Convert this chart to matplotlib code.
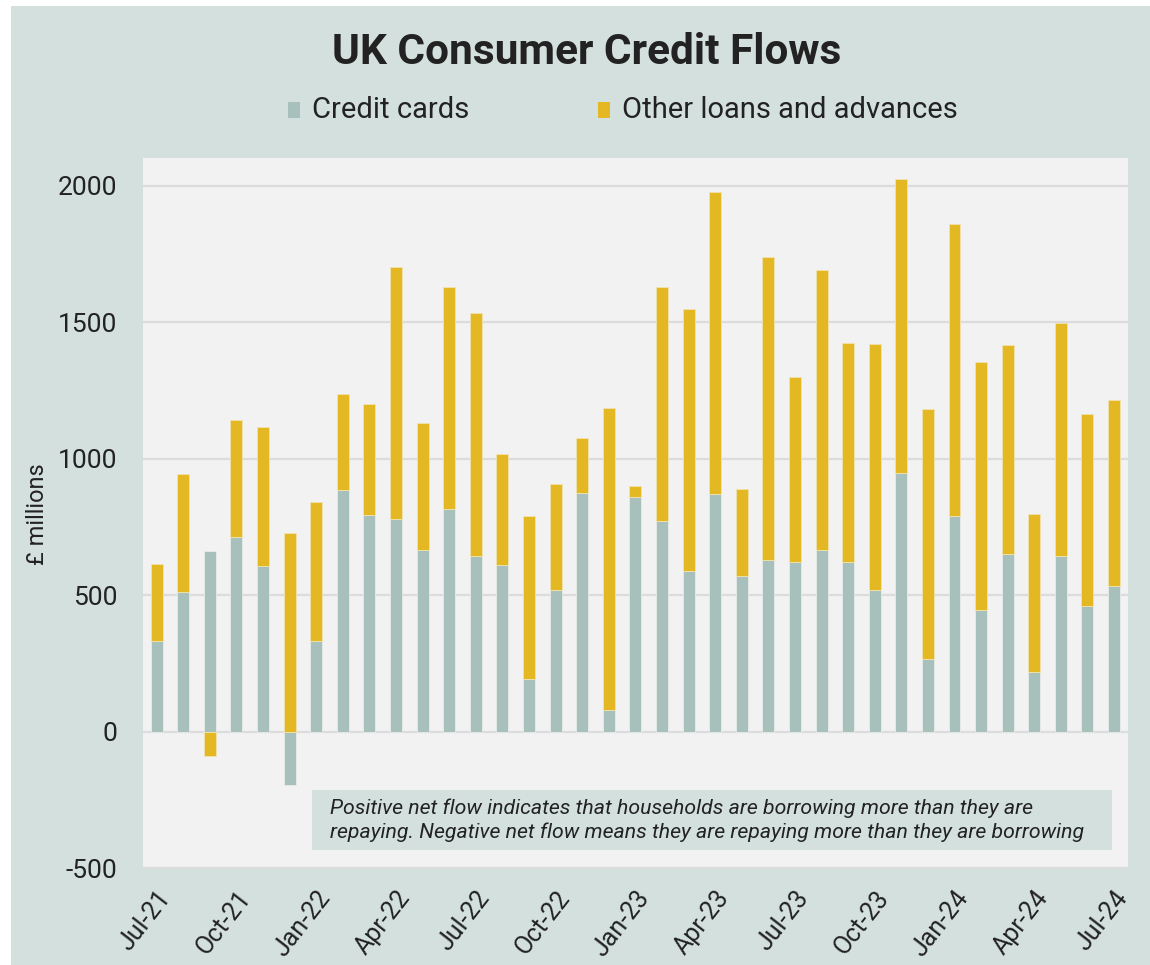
import numpy as np
import matplotlib
matplotlib.use("Agg")
import matplotlib.pyplot as plt
from matplotlib.patches import Rectangle

plt.rcParams['font.family'] = ['Roboto', 'DejaVu Sans']

# Monthly net flows, £ millions, Jul-21 .. Jul-24
months = ['Jul-21', 'Aug-21', 'Sep-21', 'Oct-21', 'Nov-21', 'Dec-21',
          'Jan-22', 'Feb-22', 'Mar-22', 'Apr-22', 'May-22', 'Jun-22',
          'Jul-22', 'Aug-22', 'Sep-22', 'Oct-22', 'Nov-22', 'Dec-22',
          'Jan-23', 'Feb-23', 'Mar-23', 'Apr-23', 'May-23', 'Jun-23',
          'Jul-23', 'Aug-23', 'Sep-23', 'Oct-23', 'Nov-23', 'Dec-23',
          'Jan-24', 'Feb-24', 'Mar-24', 'Apr-24', 'May-24', 'Jun-24',
          'Jul-24']
credit_cards = [332, 512, 662, 712, 607, -195, 332, 884, 793, 780, 665, 815,
                643, 610, 191, 520, 873, 78, 858, 772, 590, 870, 571, 629,
                621, 666, 621, 520, 948, 266, 790, 445, 652, 220, 644, 461,
                535]
other_loans = [282, 430, -88, 428, 507, 727, 509, 354, 406, 921, 465, 815,
               889, 406, 599, 386, 202, 1107, 42, 858, 959, 1107, 319, 1111,
               677, 1023, 801, 900, 1075, 915, 1070, 908, 764, 576, 852, 701,
               680]

bg = '#d3e0dd'
cc_color = '#a7c0bb'
ol_color = '#e3b823'

fig = plt.figure(figsize=(11.5, 9.65), dpi=100)
fig.patch.set_facecolor('white')
fig.patches.append(Rectangle((11 / 1150, 0), 1, 1 - 6 / 965,
                             transform=fig.transFigure, facecolor=bg,
                             edgecolor='none', zorder=-10))

ax = fig.add_axes([0.124, 0.099, 0.857, 0.737])
ax.set_facecolor('#f2f2f2')

x = np.arange(len(months))
cc = np.array(credit_cards)
ol = np.array(other_loans)

# stack positives on positives, negatives on negatives
cc_bottom = np.zeros(len(x))
ol_bottom = np.where(ol >= 0, np.clip(cc, 0, None), np.clip(cc, None, 0))

ax.bar(x, cc, bottom=cc_bottom, width=0.45, color=cc_color,
       edgecolor='#e6ecea', linewidth=0.6, zorder=3)
ax.bar(x, ol, bottom=ol_bottom, width=0.45, color=ol_color,
       edgecolor='#f0e3b0', linewidth=0.6, zorder=3)

ax.set_xlim(-0.53, len(x) - 0.47)
ax.set_ylim(-505, 2100)
ax.set_yticks([-500, 0, 500, 1000, 1500, 2000])
ax.set_yticklabels(['-500', '0', '500', '1000', '1500', '2000'], fontsize=19,
                   color='#222222')
ax.yaxis.grid(True, color='#dcdcdc', linewidth=1.6, zorder=0)
ax.set_axisbelow(True)
ax.tick_params(axis='y', length=0, pad=18)
ax.tick_params(axis='x', length=0, pad=12)

ax.set_xticks(x[::3])
ax.set_xticklabels(months[::3], rotation=52, ha='right', va='top',
                   rotation_mode='anchor', fontsize=18, color='#222222')

for s in ax.spines.values():
    s.set_visible(False)

ax.set_ylabel('£ millions', fontsize=17, color='#222222')
ax.yaxis.set_label_coords(-0.095, 0.5)

fig.text(0.51, 1 - 53 / 965, 'UK Consumer Credit Flows', ha='center',
         va='center', fontsize=30.5, fontweight='bold', color='#222222')

# legend drawn by hand to match layout
fig.patches.append(Rectangle((288 / 1150, 1 - 118 / 965), 12 / 1150, 16 / 965,
                             transform=fig.transFigure, facecolor=cc_color,
                             edgecolor='none'))
fig.text(312 / 1150, 1 - 110 / 965, 'Credit cards', ha='left', va='center',
         fontsize=21, color='#222222')
fig.patches.append(Rectangle((598 / 1150, 1 - 118 / 965), 12 / 1150, 16 / 965,
                             transform=fig.transFigure, facecolor=ol_color,
                             edgecolor='none'))
fig.text(622 / 1150, 1 - 110 / 965, 'Other loans and advances', ha='left',
         va='center', fontsize=21, color='#222222')

note = ('Positive net flow indicates that households are borrowing more than they are\n'
        'repaying. Negative net flow means they are repaying more than they are borrowing')
fig.patches.append(Rectangle((312 / 1150, 1 - 850 / 965), 800 / 1150, 60 / 965,
                             transform=fig.transFigure, facecolor=bg,
                             edgecolor='none', zorder=5))
fig.text(330 / 1150, 1 - 820 / 965, note, ha='left', va='center',
         fontsize=15.3, style='italic', color='#222222', linespacing=1.3,
         zorder=6)

fig.savefig('out.png', dpi=100, facecolor=fig.get_facecolor())
